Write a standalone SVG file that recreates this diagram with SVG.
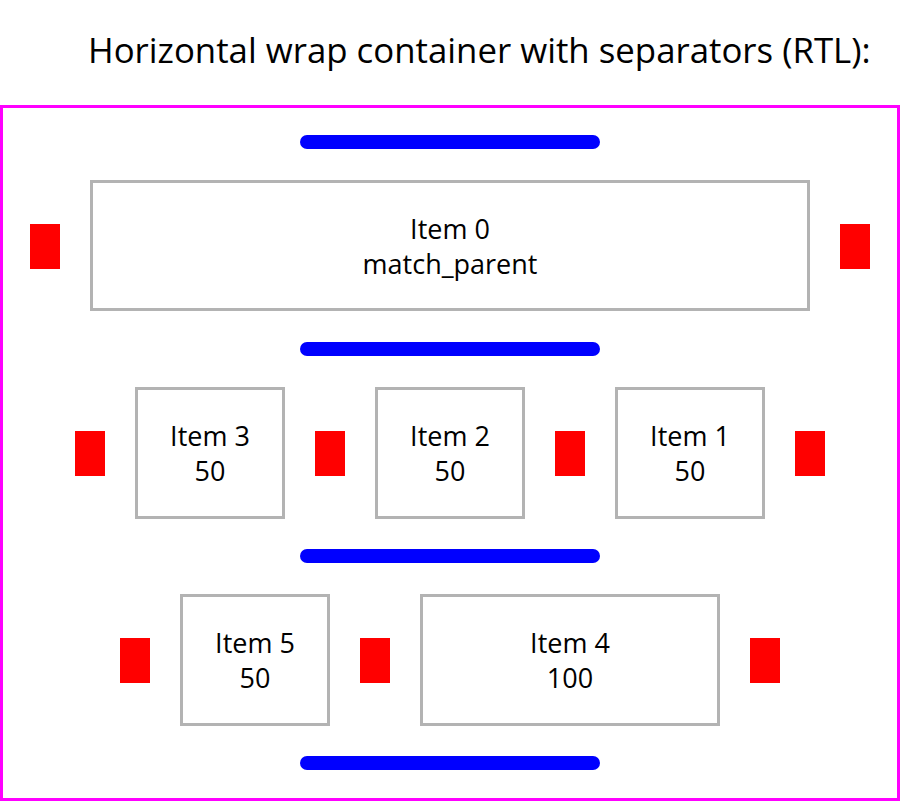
<svg xmlns="http://www.w3.org/2000/svg" width="900" height="801" viewBox="0 0 900 801">
<style>
.item{fill:#fff;stroke:#b3b3b3;stroke-width:3}
.sep{fill:#ff0000}
.bar{fill:#0000ff}
.t{font-family:"Open Sans","Noto Sans",sans-serif;font-size:27px;fill:#000;text-anchor:middle}
.title{font-family:"Open Sans","Noto Sans",sans-serif;font-size:34.8px;fill:#000}
</style>
<rect width="900" height="801" fill="#fff"/>
<text class="title" x="88" y="63">Horizontal wrap container with separators (RTL):</text>
<rect x="1.5" y="106.5" width="897" height="693" fill="none" stroke="#ff00ff" stroke-width="3"/>
<g id="connectors">
<rect class="bar" x="300" y="135" width="300" height="14" rx="7"/>
<rect class="bar" x="300" y="342" width="300" height="14" rx="7"/>
<rect class="bar" x="300" y="549" width="300" height="14" rx="7"/>
<rect class="bar" x="300" y="756" width="300" height="14" rx="7"/>
<rect class="sep" x="30" y="224" width="30" height="45"/>
<rect class="sep" x="840" y="224" width="30" height="45"/>
<rect class="sep" x="75" y="431" width="30" height="45"/>
<rect class="sep" x="315" y="431" width="30" height="45"/>
<rect class="sep" x="555" y="431" width="30" height="45"/>
<rect class="sep" x="795" y="431" width="30" height="45"/>
<rect class="sep" x="120" y="638" width="30" height="45"/>
<rect class="sep" x="360" y="638" width="30" height="45"/>
<rect class="sep" x="750" y="638" width="30" height="45"/>
</g>
<g id="item0">
<rect class="item" x="91.5" y="181.5" width="717" height="128"/>
<text class="t" x="450" y="239">Item 0</text>
<text class="t" x="450" y="273.5">match_parent</text>
</g>
<g id="item3">
<rect class="item" x="136.5" y="388.5" width="147" height="129"/>
<text class="t" x="210" y="446">Item 3</text>
<text class="t" x="210" y="481">50</text>
</g>
<g id="item2">
<rect class="item" x="376.5" y="388.5" width="147" height="129"/>
<text class="t" x="450" y="446">Item 2</text>
<text class="t" x="450" y="481">50</text>
</g>
<g id="item1">
<rect class="item" x="616.5" y="388.5" width="147" height="129"/>
<text class="t" x="690" y="446">Item 1</text>
<text class="t" x="690" y="481">50</text>
</g>
<g id="item5">
<rect class="item" x="181.5" y="595.5" width="147" height="129"/>
<text class="t" x="255" y="653">Item 5</text>
<text class="t" x="255" y="688">50</text>
</g>
<g id="item4">
<rect class="item" x="421.5" y="595.5" width="297" height="129"/>
<text class="t" x="570" y="653">Item 4</text>
<text class="t" x="570" y="688">100</text>
</g>
</svg>
